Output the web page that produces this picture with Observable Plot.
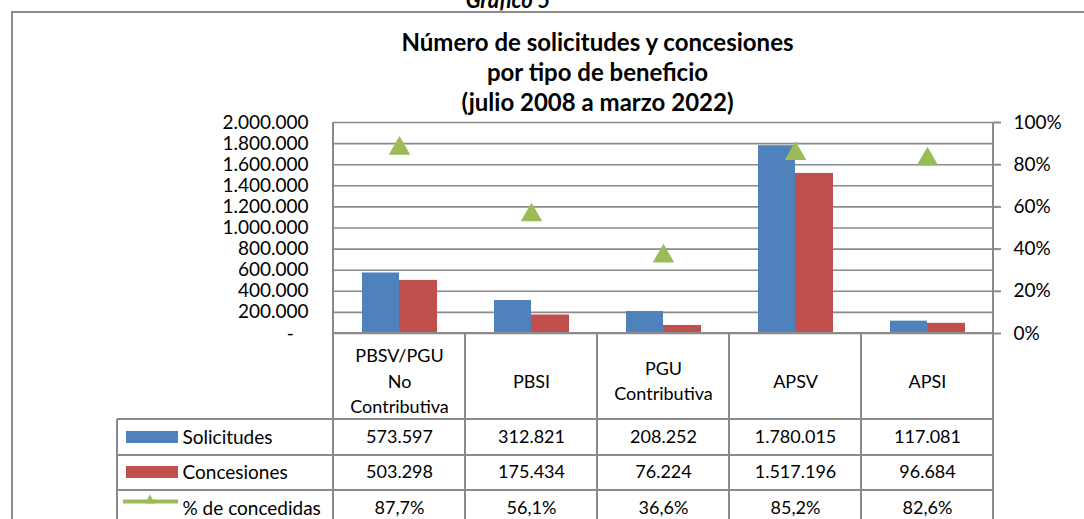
<!DOCTYPE html>
<html><head><meta charset="utf-8">
<script src="https://cdn.jsdelivr.net/npm/d3@7"></script>
<script src="https://cdn.jsdelivr.net/npm/@observablehq/plot@0.6"></script>
<style>
body{margin:0;background:#fff;}
#chart{width:1084px;height:519px;overflow:hidden;}
</style></head><body><div id="chart"></div>
<script>
// ---- data ----
const categories = ["PBSV/PGU\nNo\nContributiva", "PBSI", "PGU\nContributiva", "APSV", "APSI"];
const solicitudes = [573597, 312821, 208252, 1780015, 117081];
const concesiones = [503298, 175434, 76224, 1517196, 96684];
const pctConcedidas = [87.7, 56.1, 36.6, 85.2, 82.6];
const seriesNames = ["Solicitudes", "Concesiones", "% de concedidas"];
const leftTicks = [0, 200000, 400000, 600000, 800000, 1000000, 1200000, 1400000, 1600000, 1800000, 2000000];
const rightTicksPct = [0, 20, 40, 60, 80, 100];
const titleText = "Número de solicitudes y concesiones\npor tipo de beneficio\n(julio 2008 a marzo 2022)";
const captionTop = "Gráfico 5";

const colors = {Solicitudes: "#4F81BD", Concesiones: "#C0504D", pct: "#9BBB59"};
const GRID = "#8a8a8a";
const FONT = "Lato, 'Open Sans', sans-serif";

const loc = d3.formatLocale({decimal: ",", thousands: ".", grouping: [3], currency: ["", ""]});
const fmtInt = loc.format(",d");
const fmtPct = loc.format(".1f");
const yMax = 2000000;
const pctToY = p => p / 100 * yMax; // secondary axis mapping

const rows = categories.map((c, i) => ({cat: c, sol: solicitudes[i], con: concesiones[i], pct: pctConcedidas[i]}));
const rowOffsets = [104, 139, 175];

// decorations: outer frame, spines, table grid, legend keys
function decor(index, scales, values, dims) {
  const x = scales.x;
  const L = dims.marginLeft, R = dims.width - dims.marginRight, T = dims.marginTop, B = dims.height - dims.marginBottom;
  const hdrB = B + 86, r1 = hdrB + 36, r2 = r1 + 35, r3 = r2 + 35, tableL = 117;
  const g = d3.create("svg:g");
  const lines = g.append("g").attr("stroke", GRID).attr("stroke-width", 2).attr("fill", "none");
  lines.append("path").attr("d", `M12,${dims.height}V12H${dims.width}`).attr("stroke", "#8c8c8c");
  lines.append("path").attr("d", `M${L},${T}V${r3}M${R},${T}V${r3}`);
  categories.forEach((c, i) => { if (i > 0) lines.append("path").attr("d", `M${x(c)},${B}V${r3}`); });
  lines.append("path").attr("d", `M${L},${B}H${R}M${tableL},${hdrB}H${R}M${tableL},${r1}H${R}M${tableL},${r2}H${R}M${tableL},${r3}H${R}M${tableL},${hdrB}V${r3}`);
  // legend keys
  g.append("rect").attr("x", 126).attr("y", hdrB + 12).attr("width", 52).attr("height", 12).attr("fill", colors.Solicitudes);
  g.append("rect").attr("x", 126).attr("y", r1 + 11).attr("width", 52).attr("height", 12).attr("fill", colors.Concesiones);
  g.append("path").attr("d", `M123,${r2 + 11.5}H178`).attr("stroke", colors.pct).attr("stroke-width", 4);
  g.append("path").attr("d", d3.symbol(d3.symbolTriangle, 45)()).attr("transform", `translate(150,${r2 + 10.5})`).attr("fill", colors.pct);
  // top caption (cut off at the top edge, as in the reference)
  g.append("text").attr("x", 508).attr("y", 8).attr("text-anchor", "middle").attr("font-weight", "bold").attr("font-style", "italic")
    .attr("font-size", 22).attr("font-family", FONT).attr("fill", "#000").text(captionTop);
  return g.node();
}

const chart = Plot.plot({
  width: 1084,
  height: 519,
  marginLeft: 333,
  marginRight: 91,
  marginTop: 122,
  marginBottom: 186,
  style: {fontFamily: FONT, fontSize: "18px", color: "#000", background: "#fff", overflow: "visible"},
  x: {type: "band", domain: categories, padding: 0, axis: null},
  y: {domain: [0, yMax]},
  marks: [
    Plot.gridY(leftTicks, {stroke: GRID, strokeOpacity: 1, strokeWidth: 1.6}),
    Plot.barY(rows, {x: "cat", y: "sol", fill: colors.Solicitudes, insetLeft: 29, insetRight: 66}),
    Plot.barY(rows, {x: "cat", y: "con", fill: colors.Concesiones, insetLeft: 66, insetRight: 28}),
    Plot.dot(rows, {x: "cat", y: d => pctToY(d.pct), symbol: "triangle", r: 8, fill: colors.pct, stroke: "none"}),
    Plot.axisY(leftTicks, {anchor: "left", tickSize: 0, tickPadding: 25, fontSize: 19,
      tickFormat: d => d === 0 ? "-\u00a0\u00a0\u00a0" : fmtInt(d)}),
    Plot.axisY(rightTicksPct.map(pctToY), {anchor: "right", tickSize: 7, tickPadding: 13, fontSize: 19, stroke: GRID, strokeWidth: 2,
      tickFormat: d => Math.round(d / yMax * 100) + "%"}),
    decor,
    // title
    Plot.text([titleText], {frameAnchor: "top", dx: -66, dy: -51, lineAnchor: "middle", lineHeight: 1.25,
      fontSize: 24, fontWeight: "bold", fill: "#000"}),
    // table header
    Plot.text(rows, {x: "cat", text: "cat", frameAnchor: "bottom", dy: 46, lineAnchor: "middle", lineHeight: 1.42, fill: "#000"}),
    // table values
    Plot.text(rows, {x: "cat", text: d => fmtInt(d.sol), frameAnchor: "bottom", dy: rowOffsets[0], lineAnchor: "middle", fill: "#000"}),
    Plot.text(rows, {x: "cat", text: d => fmtInt(d.con), frameAnchor: "bottom", dy: rowOffsets[1], lineAnchor: "middle", fill: "#000"}),
    Plot.text(rows, {x: "cat", text: d => fmtPct(d.pct) + "%", frameAnchor: "bottom", dy: rowOffsets[2], lineAnchor: "middle", fill: "#000"}),
    // legend labels in the table
    ...seriesNames.map((name, i) => Plot.text([name], {frameAnchor: "bottom-left", dx: -151, dy: rowOffsets[i], lineAnchor: "middle",
      text: d => d, textAnchor: "start", fontSize: 19, fill: "#000"}))
  ]
});
document.getElementById("chart").appendChild(chart);
</script>
</body></html>
